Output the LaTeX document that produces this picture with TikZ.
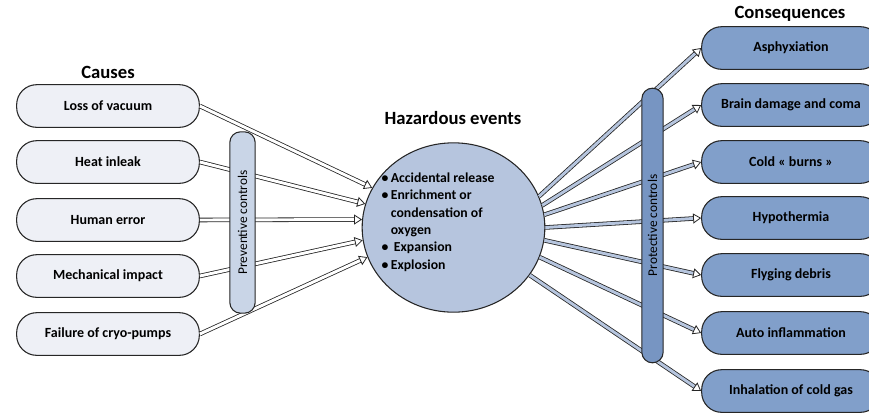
\documentclass[tikz,border=0pt]{standalone}
\usepackage{fontspec}
\setmainfont{Carlito}
\usetikzlibrary{arrows.meta,shapes.geometric}
\definecolor{causefill}{HTML}{EEF0F6}
\definecolor{prevfill}{HTML}{C9D5E7}
\definecolor{hazfill}{HTML}{B6C5DE}
\definecolor{consfill}{HTML}{819FCA}
\definecolor{protfill}{HTML}{7795C2}
\begin{document}
\begin{tikzpicture}
    [%%%%%%%%%%%%%%%%%%%%%%%%%%%%%%
        x=0.75pt, y=-0.75pt,
        causebox/.style={rectangle, rounded corners=15pt, draw=black!85, line width=0.8pt,
            fill=causefill, minimum width=137pt, minimum height=32pt, font=\bfseries\fontsize{10.5}{12}\selectfont},
        consbox/.style={causebox, fill=consfill, minimum width=134pt},
        bar/.style={rectangle, rounded corners=8pt, draw=black!85, line width=0.8pt, inner sep=0pt},
        header/.style={font=\bfseries\fontsize{14}{16}\selectfont},
        inarrow/.style={draw=black!85, line width=0.6pt, double=white, double distance=2.2pt,
            -{Triangle[open, length=6pt, width=7.5pt]}},
        outarrow/.style={inarrow, double=hazfill},
    ]%%%%%%%%%%%%%%%%%%%%%%%%%%%%%%
\useasboundingbox (0,0) rectangle (869,412);
% causes
\node[header] (causes) at (108,72) {Causes};
\node[causebox] (c1) at (108,106) {Loss of vacuum};
\node[causebox] (c2) at (108,162) {Heat inleak};
\node[causebox] (c3) at (108,220) {Human error};
\node[causebox] (c4) at (108,276) {Mechanical impact};
\node[causebox] (c5) at (108,334) {Failure of cryo-pumps};
% hazardous events
\node[header] (hazhead) at (453,118) {Hazardous events};
\node[ellipse, draw=black!85, line width=0.8pt, fill=hazfill, minimum width=137pt, minimum height=127pt] (haz) at (453.5,227.5) {};
\node[align=left, anchor=north west, font=\bfseries\fontsize{10.3}{13}\selectfont] (hazlist) at (377,168)
    {\textbullet\,Accidental release\\
     \textbullet\,Enrichment or\\
     \phantom{\textbullet\,}condensation of\\
     \phantom{\textbullet\,}oxygen\\
     \textbullet\,\ Expansion\\
     \textbullet\,Explosion};
% consequences
\node[header] (conshead) at (790,14) {Consequences};
\node[consbox] (q1) at (791,48) {Asphyxiation};
\node[consbox] (q2) at (791,105) {Brain damage and coma};
\node[consbox] (q3) at (791,162) {Cold « burns »};
\node[consbox] (q4) at (791,218) {Hypothermia};
\node[consbox] (q5) at (791,275) {Flyging debris};
\node[consbox] (q6) at (791,333) {Auto inflammation};
\node[consbox] (q7) at (791,391) {Inhalation of cold gas};
% arrows
\draw[inarrow] (c1.east) -- (haz.154);
\draw[inarrow] (c2.east) -- (haz.165);
\draw[inarrow] (c3.east) -- (haz.175);
\draw[inarrow] (c4.east) -- (haz.188);
\draw[inarrow] (c5.east) -- (haz.199);
\draw[outarrow] (haz.20) -- (q1.west);
\draw[outarrow] (haz.14) -- (q2.west);
\draw[outarrow] (haz.8) -- (q3.west);
\draw[outarrow] (haz.0) -- (q4.west);
\draw[outarrow] (haz.-8) -- (q5.west);
\draw[outarrow] (haz.-19) -- (q6.west);
\draw[outarrow] (haz.-32) -- (q7.west);
% controls
\node[bar, fill=prevfill, minimum width=19pt, minimum height=136pt] (prev) at (242.5,222.5)
    {\rotatebox{90}{\fontsize{10}{12}\selectfont Preventive controls}};
\node[bar, fill=protfill, minimum width=16pt, minimum height=206pt] (prot) at (652.5,225.5)
    {\rotatebox{90}{\fontsize{10}{12}\selectfont Protective controls}};
\end{tikzpicture}
\end{document}
